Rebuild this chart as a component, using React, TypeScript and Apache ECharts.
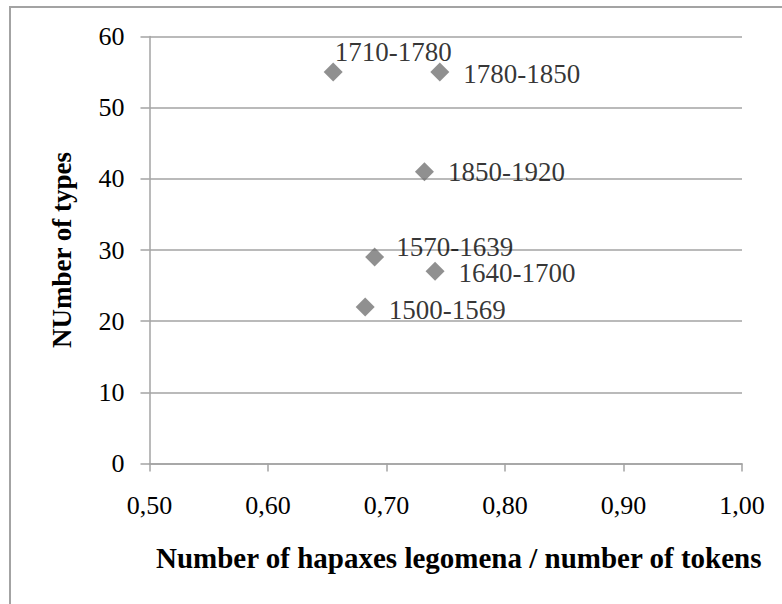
import React, { useEffect, useRef } from "react";
import * as echarts from "echarts";

const periods = ["1710-1780", "1780-1850", "1850-1920", "1570-1639", "1640-1700", "1500-1569"];
const hapaxRatio = [0.655, 0.745, 0.732, 0.69, 0.741, 0.682];
const typeCounts = [55, 55, 41, 29, 27, 22];
const xTicks = [0.5, 0.6, 0.7, 0.8, 0.9, 1.0];
const yTicks = [0, 10, 20, 30, 40, 50, 60];

const labelOffsets: Record<string, [number, number]> = {
  "1710-1780": [-22, -20],
  "1780-1850": [0, 2],
  "1850-1920": [0, 0],
  "1570-1639": [-2, -10],
  "1640-1700": [0, 2],
  "1500-1569": [0, 3],
};

const FONT = "Liberation Serif";
const GRAY = "#a3a3a3";

export default function App() {
  const ref = useRef<HTMLDivElement>(null);
  useEffect(() => {
    if (!ref.current) return;
    const chart = echarts.init(ref.current, null, { renderer: "svg" });
    const data = periods.map((p, i) => ({
      value: [hapaxRatio[i], typeCounts[i]],
      name: p,
      label: { offset: labelOffsets[p] },
    }));
    chart.setOption({
      animation: false,
      backgroundColor: "#ffffff",
      textStyle: { fontFamily: FONT },
      graphic: [
        {
          type: "rect",
          shape: { x: 10, y: 7, width: 820, height: 640 },
          style: { fill: "none", stroke: GRAY, lineWidth: 2 },
          silent: true,
        },
      ],
      grid: { left: 149.5, right: 40, top: 36.5, bottom: 140.5, containLabel: false },
      xAxis: {
        type: "value",
        min: xTicks[0],
        max: xTicks[xTicks.length - 1],
        interval: 0.1,
        name: "Number of hapaxes legomena / number of tokens",
        nameLocation: "middle",
        nameGap: 80,
        nameTextStyle: { fontFamily: FONT, fontWeight: "bold", fontSize: 29, color: "#000", padding: [0, 0, 0, 26] },
        axisLine: { show: true, onZero: false, lineStyle: { color: GRAY, width: 1.5 } },
        axisTick: { show: true, length: 8, inside: false, lineStyle: { color: GRAY, width: 1.5 } },
        splitLine: { show: false },
        axisLabel: {
          fontFamily: FONT,
          fontSize: 26,
          color: "#000",
          margin: 29,
          formatter: (v: number) => v.toFixed(2).replace(".", ","),
        },
      },
      yAxis: {
        type: "value",
        min: yTicks[0],
        max: yTicks[yTicks.length - 1],
        interval: 10,
        name: "NUmber of types",
        nameLocation: "middle",
        nameGap: 74,
        nameTextStyle: { fontFamily: FONT, fontWeight: "bold", fontSize: 27, color: "#000" },
        axisLine: { show: true, lineStyle: { color: GRAY, width: 1.5 } },
        axisTick: { show: true, length: 9, inside: false, lineStyle: { color: GRAY, width: 1.5 } },
        splitLine: { show: true, lineStyle: { color: GRAY, width: 1.5 } },
        axisLabel: { fontFamily: FONT, fontSize: 26, color: "#000", margin: 25 },
      },
      series: [
        {
          type: "scatter",
          symbol: "diamond",
          symbolSize: 19,
          itemStyle: { color: "#747474" },
          data,
          label: {
            show: true,
            position: "right",
            distance: 14,
            formatter: (p: any) => p.name,
            fontFamily: FONT,
            fontSize: 27,
            lineHeight: 20,
            color: "#000",
          },
        },
      ],
    });
    return () => chart.dispose();
  }, []);
  return (
    <div
      ref={ref}
      style={{ position: "absolute", left: 0, top: 0, width: 782, height: 604 }}
    />
  );
}
